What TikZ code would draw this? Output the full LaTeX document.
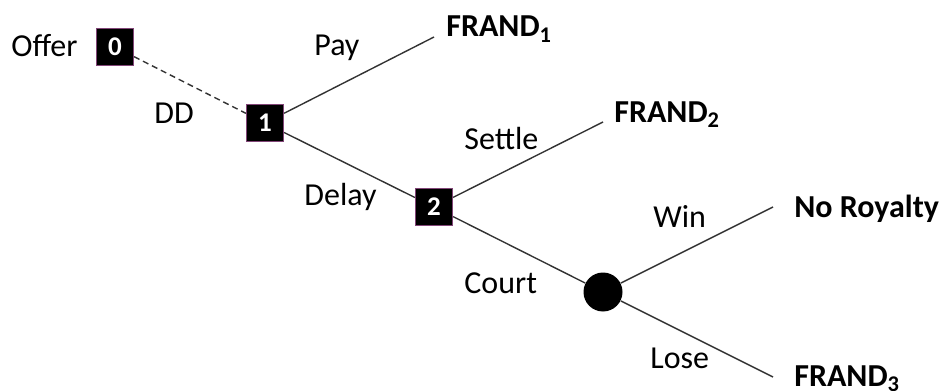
\documentclass[tikz,border=0pt]{standalone}
\usepackage{fontspec}
\setmainfont{Carlito}
\definecolor{boxrim}{RGB}{130,70,120}
\begin{document}
\begin{tikzpicture}[x=0.5pt,y=-0.5pt,
	move/.style={fill=black,draw=boxrim,line width=0.6pt,minimum size=18.5pt,inner sep=0pt,text=white,font=\fontsize{13.5}{15}\selectfont\bfseries},
	chance/.style={fill,circle,inner sep=0pt,minimum size=19.5pt},
	lbl/.style={anchor=base west,inner sep=0pt,font=\fontsize{16}{19}\selectfont},
	leaf/.style={anchor=base west,inner sep=0pt,font=\fontsize{16}{19}\selectfont\bfseries},
	branch/.style={line width=0.7pt,black!80}]
		\useasboundingbox (0,0) rectangle (939,391);
		\node[move] (d0) at (115,47) {0};
		\node[move] (d1) at (265,123) {1};
		\node[move] (d2) at (434,207) {2};
		\node[chance] (c) at (603,292) {};
		\coordinate (e1) at (434,37);
		\coordinate (e2) at (603,122);
		\coordinate (e3) at (773,207);
		\coordinate (e4) at (773,377);
		\node[leaf] (frand1) at (446,37) {FRAND\textsubscript{1}};
		\node[leaf] (frand2) at (614,122) {FRAND\textsubscript{2}};
		\node[leaf] (noroy) at (794,217) {No Royalty};
		\node[leaf] (frand3) at (794,386) {FRAND\textsubscript{3}};
		\node[lbl] (offer) at (11,56) {Offer};
		\node[lbl] (dd) at (154,123) {DD};
		\node[lbl] (pay) at (314,55) {Pay};
		\node[lbl] (settle) at (464,149) {Settle};
		\node[lbl] (delay) at (304,205) {Delay};
		\node[lbl] (court) at (464,293) {Court};
		\node[lbl] (win) at (653,227) {Win};
		\node[lbl] (lose) at (650,368) {Lose};
		\draw[branch,dash pattern=on 3pt off 2pt] (d0) -- (d1);
		\foreach \a/\b in {d1/e1,d1/d2,d2/e2,d2/c,c/e3,c/e4} {
			\draw[branch] (\a) -- (\b);
		}
	\end{tikzpicture}
\end{document}
